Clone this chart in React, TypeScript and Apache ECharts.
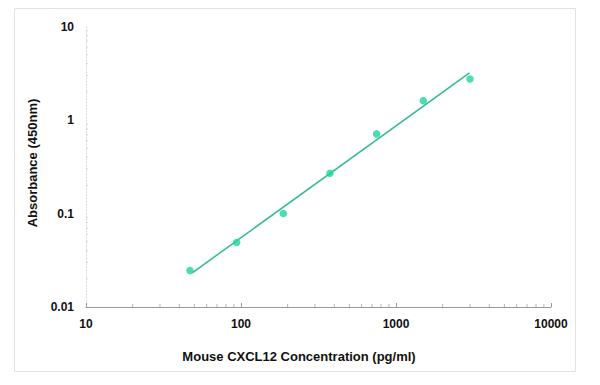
import React, { useEffect, useRef } from "react";
import * as echarts from "echarts";

const concentrations = [46.875, 93.75, 187.5, 375, 750, 1500, 3000];
const absorbances = [0.0245, 0.049, 0.1, 0.27, 0.71, 1.61, 2.75];
const fitLineX = [48.5, 2980];
const fitLineY = [0.0232, 3.2];
const xTickLabels = [10, 100, 1000, 10000];
const yTickLabels = [0.01, 0.1, 1, 10];
const xMinorTicks = [
  20, 30, 40, 50, 60, 70, 80, 90,
  200, 300, 400, 500, 600, 700, 800, 900,
  2000, 3000, 4000, 5000, 6000, 7000, 8000, 9000,
];
const yMinorTicks = [
  0.02, 0.03, 0.04, 0.05, 0.06, 0.07, 0.08, 0.09,
  0.2, 0.3, 0.4, 0.5, 0.6, 0.7, 0.8, 0.9,
  2, 3, 4, 5, 6, 7, 8, 9,
];
const xTitle = "Mouse CXCL12 Concentration (pg/ml)";
const yTitle = "Absorbance (450nm)";

const FONT = "'Liberation Sans', Arial, sans-serif";

function fmt(v: number): string {
  return String(Number(v.toPrecision(6)));
}

export default function App() {
  const ref = useRef<HTMLDivElement>(null);
  useEffect(() => {
    if (!ref.current) return;
    const chart = echarts.init(ref.current, undefined, { renderer: "svg" });
    const xMin = xTickLabels[0];
    const xMax = xTickLabels[xTickLabels.length - 1];
    const yMin = yTickLabels[0];
    const yMax = yTickLabels[yTickLabels.length - 1];
    chart.setOption({
      animation: false,
      backgroundColor: "#ffffff",
      grid: { left: 86, right: 49, top: 26.5, bottom: 78 },
      xAxis: {
        type: "log",
        logBase: 10,
        min: xMin,
        max: xMax,
        splitLine: { show: false },
        axisLine: { show: true, lineStyle: { color: "#9a9a9a", width: 1 } },
        axisTick: { show: true, inside: true, length: 4, lineStyle: { color: "#9a9a9a" } },
        axisLabel: {
          margin: 11,
          color: "#111",
          fontFamily: FONT,
          fontWeight: "bold",
          fontSize: 12,
          formatter: (v: number) => fmt(v),
        },
      },
      yAxis: {
        type: "log",
        logBase: 10,
        min: yMin,
        max: yMax,
        splitLine: { show: false },
        axisLine: { show: true, lineStyle: { color: "#d8d8d8", width: 1, type: [1, 2] } },
        axisTick: { show: false },
        axisLabel: {
          margin: 12,
          color: "#111",
          fontFamily: FONT,
          fontWeight: "bold",
          fontSize: 12,
          formatter: (v: number) => fmt(v),
        },
      },
      series: [
        {
          type: "scatter",
          clip: false,
          silent: true,
          symbol: "rect",
          symbolSize: [1, 3],
          symbolOffset: [0, -1.5],
          itemStyle: { color: "#a0a0a0" },
          data: xMinorTicks.map((x) => [x, yMin]),
          z: 1,
        },
        {
          type: "scatter",
          clip: false,
          silent: true,
          symbol: "rect",
          symbolSize: [2, 1],
          symbolOffset: [1, 0],
          itemStyle: { color: "#cfcfcf" },
          data: yMinorTicks.map((y) => [xMin, y]),
          z: 1,
        },
        {
          type: "line",
          symbol: "none",
          lineStyle: { color: "#30b994", width: 1.5 },
          data: fitLineX.map((x, i) => [x, fitLineY[i]]),
          z: 2,
        },
        {
          type: "scatter",
          symbol: "circle",
          symbolSize: 7.5,
          itemStyle: { color: "#1cd69b" },
          data: concentrations.map((x, i) => [x, absorbances[i]]),
          z: 3,
        },
      ],
      graphic: [
        {
          type: "rect",
          shape: { x: 14.5, y: 8.5, width: 561, height: 363 },
          style: { fill: "none", stroke: "#e2e2e2", lineWidth: 1 },
          silent: true,
          z: -1,
        },
        {
          type: "text",
          x: 299,
          y: 356,
          style: {
            text: xTitle,
            fill: "#111",
            font: `bold 13px ${FONT}`,
            align: "center",
            verticalAlign: "middle",
          },
        },
        {
          type: "text",
          x: 32,
          y: 163,
          rotation: Math.PI / 2,
          style: {
            text: yTitle,
            fill: "#111",
            font: `bold 13px ${FONT}`,
            align: "center",
            verticalAlign: "middle",
          },
        },
      ],
    });
    return () => chart.dispose();
  }, []);
  return <div ref={ref} style={{ width: 600, height: 385, margin: -8 }} />;
}
